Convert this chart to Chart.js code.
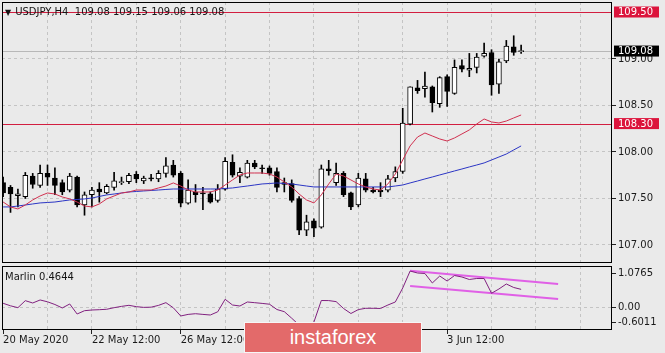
<!DOCTYPE html>
<html lang="en">
<head>
<meta charset="UTF-8">
<title>USDJPY H4</title>
<script src="https://cdn.jsdelivr.net/npm/chart.js@4"></script>
<style>
    body { margin: 0; background: #eaeaea; }
    #wrap { position: relative; width: 665px; height: 353px; overflow: hidden; font-family: 'DejaVu Sans', sans-serif; }
    canvas { position: absolute; left: 0; }
    #priceChart { top: 0; }
    #marlinChart { top: 265px; }
    .caption { position: absolute; font-size: 10px; color: #151515; white-space: pre; }
    .caption .arrow { font-size: 8px; margin-right: 4px; }
    #title { left: 5px; top: 6px; }
    #marlinTitle { left: 5px; top: 271px; }
    #watermark {
        position: absolute; left: 244px; top: 322px; width: 178px; height: 31px;
        box-sizing: border-box; border: 1px solid #f6f6f6; background: #e36a6a;
        color: #fff; font: 20px 'Liberation Sans', Arial, sans-serif;
        text-align: center; line-height: 29px;
    }
</style>
</head>
<body>
<div id="wrap">
    <canvas id="priceChart" width="665" height="265"></canvas>
    <canvas id="marlinChart" width="665" height="88"></canvas>
    <div class="caption" id="title"></div>
    <div class="caption" id="marlinTitle"></div>
    <div id="watermark">instaforex</div>
</div>
<script>
    // H4 candles, bar 0 = 20 May 12:00
    const open  = [107.67,107.62,107.53,107.52,107.74,107.64,107.77,107.72,107.67,107.59,107.73,107.43,107.54,107.60,107.56,107.62,107.67,107.68,107.76,107.69,107.72,107.71,107.77,107.86,107.77,107.45,107.57,107.56,107.55,107.48,107.60,107.89,107.74,107.73,107.88,107.83,107.83,107.79,107.67,107.66,107.50,107.16,107.26,107.19,107.82,107.67,107.77,107.56,107.43,107.71,107.59,107.59,107.59,107.72,107.79,108.30,108.69,108.68,108.70,108.52,108.81,108.63,108.93,108.88,108.91,109.03,109.07,108.73,108.98,109.13,109.08];
    const high  = [107.73,107.64,107.60,107.78,107.77,107.86,107.86,107.83,107.70,107.77,107.74,107.57,107.62,107.67,107.65,107.78,107.73,107.77,107.79,107.74,107.76,107.80,107.94,107.91,107.79,107.70,107.65,107.62,107.57,107.65,107.94,107.97,107.83,107.91,107.91,107.86,107.85,107.83,107.72,107.70,107.52,107.32,107.28,107.86,107.91,107.88,107.79,107.57,107.77,107.77,107.62,107.67,107.75,107.84,108.47,108.70,108.77,108.86,108.71,108.81,108.83,108.99,108.99,109.06,109.06,109.17,109.10,109.00,109.20,109.25,109.15];
    const low   = [107.52,107.35,107.41,107.50,107.61,107.62,107.64,107.54,107.54,107.57,107.41,107.32,107.41,107.46,107.55,107.59,107.65,107.66,107.67,107.66,107.69,107.68,107.73,107.73,107.41,107.44,107.46,107.38,107.45,107.46,107.59,107.73,107.67,107.72,107.82,107.77,107.75,107.57,107.57,107.46,107.11,107.10,107.09,107.18,107.75,107.64,107.52,107.38,107.41,107.57,107.56,107.52,107.57,107.68,107.77,108.29,108.63,108.59,108.43,108.48,108.49,108.62,108.86,108.81,108.85,109.02,108.61,108.63,108.96,109.04,109.06];
    const close = [107.56,107.55,107.55,107.75,107.65,107.77,107.73,107.64,107.57,107.74,107.43,107.54,107.59,107.57,107.63,107.69,107.68,107.75,107.71,107.72,107.71,107.77,107.85,107.75,107.45,107.59,107.54,107.55,107.46,107.60,107.90,107.75,107.78,107.88,107.84,107.82,107.77,107.62,107.65,107.48,107.16,107.25,107.18,107.82,107.80,107.77,107.54,107.41,107.72,107.59,107.57,107.57,107.71,107.79,108.31,108.70,108.66,108.71,108.53,108.80,108.65,108.91,108.89,108.90,109.02,109.06,108.72,108.97,109.14,109.07,109.08];

    // moving averages (red fast, blue slow)
    const maFast = [107.462,107.409,107.387,107.430,107.484,107.527,107.559,107.548,107.516,107.495,107.462,107.419,107.409,107.441,107.495,107.527,107.559,107.570,107.591,107.591,107.591,107.613,107.634,107.667,107.634,107.591,107.570,107.570,107.570,107.591,107.645,107.699,107.753,107.774,107.774,107.774,107.763,107.731,107.677,107.624,107.548,107.484,107.452,107.538,107.656,107.763,107.742,107.699,107.656,107.624,107.602,107.591,107.656,107.763,107.914,108.065,108.161,108.204,108.172,108.140,108.118,108.151,108.194,108.237,108.301,108.355,108.323,108.312,108.333,108.366,108.398];
    const maSlow = [107.409,107.409,107.419,107.430,107.441,107.452,107.457,107.462,107.473,107.484,107.489,107.495,107.505,107.522,107.538,107.548,107.559,107.570,107.575,107.581,107.586,107.591,107.597,107.602,107.602,107.602,107.602,107.602,107.602,107.602,107.608,107.613,107.624,107.634,107.645,107.656,107.661,107.667,107.661,107.656,107.645,107.634,107.624,107.624,107.624,107.624,107.624,107.624,107.624,107.624,107.624,107.624,107.624,107.634,107.645,107.667,107.688,107.710,107.731,107.753,107.774,107.796,107.817,107.839,107.860,107.882,107.914,107.946,107.978,108.022,108.065];

    // Marlin oscillator
    const marlin = [0.099,0.033,-0.016,0.168,0.107,0.186,0.138,0.067,-0.024,0.081,-0.182,-0.095,-0.077,-0.069,-0.058,-0.016,0.018,0.046,0.010,-0.008,-0.003,0.044,0.116,-0.019,-0.234,-0.192,-0.174,-0.192,-0.208,-0.124,0.204,0.054,0.028,0.133,0.115,0.096,0.075,-0.064,-0.121,-0.292,-0.472,-0.601,-0.391,0.172,0.170,0.143,-0.037,-0.169,-0.066,-0.032,-0.032,-0.037,0.054,0.133,0.500,0.945,0.893,0.880,0.631,0.814,0.683,0.827,0.788,0.723,0.749,0.749,0.361,0.474,0.605,0.513,0.4644];
    const channelBars  = [55, 75];
    const channelUpper = [0.953, 0.605];
    const channelLower = [0.552, 0.211];

    const priceTicks  = [107.00, 107.50, 108.00, 108.50, 109.00];
    const levelPrices = [109.50, 108.30];
    const bidPrice    = 109.08;
    const marlinMin = -0.6011, marlinMax = 1.0765;
    const marlinAxisLabels = ['-0.6011', '0.00', '1.0765'];
    const dateTicks  = [0, 12, 24, 36, 48, 60];
    const dateLabels = ['20 May 2020', '22 May 12:00', '26 May 12:00', '28 May 12:00', '1 Jun 12:00', '3 Jun 12:00'];

    const X_MIN = -0.15, X_MAX = 82.28;
    const gridBars = [];
    for (let b = 0; b <= X_MAX; b += 6) gridBars.push(b);

    const last = close.length - 1;
    document.getElementById('title').innerHTML = '<span class="arrow">\u25BC</span>USDJPY,H4  ' +
        [open, high, low, close].map(a => a[last].toFixed(2)).join(' ');
    document.getElementById('marlinTitle').textContent = 'Marlin ' + marlin[last].toFixed(4);

    const axisFont = { family: 'DejaVu Sans', size: 10, lineHeight: 1 };
    const gridGray = '#c4c4c4';
    const isLevel = v => levelPrices.includes(v);
    const isBid = v => v === bidPrice;

    // axes must not push the plot area in for their labels
    const noPad = s => { s.paddingTop = 0; s.paddingBottom = 0; s.paddingLeft = 0; s.paddingRight = 0; };

    // black box round each panel
    const frame = {
        id: 'frame',
        afterDraw(chart) {
            const { ctx, chartArea: a } = chart;
            ctx.save();
            ctx.strokeStyle = '#000';
            ctx.lineWidth = 1;
            ctx.strokeRect(Math.round(a.left) + 0.5, Math.round(a.top) + 0.5,
                Math.round(a.right - a.left) - 1, Math.round(a.bottom - a.top) - 1);
            ctx.restore();
        }
    };

    const xGrid = {
        type: 'linear', min: X_MIN, max: X_MAX, offset: false, bounds: 'data',
        afterBuildTicks: s => { s.ticks = gridBars.map(v => ({ value: v })); },
        grid: { offset: false, color: ctx => ctx.tick && ctx.tick.value === 0 ? 'rgba(0,0,0,0)' : gridGray },
        border: { display: false, dash: [3, 3] }
    };

    const pts = arr => arr.map((v, i) => ({ x: i, y: v }));

    new Chart(document.getElementById('priceChart'), {
        type: 'bar',
        data: {
            datasets: [
                { type: 'line', data: pts(maFast), borderColor: '#d0304f', borderWidth: 1, pointRadius: 0, order: 0 },
                { type: 'line', data: pts(maSlow), borderColor: '#2b35c4', borderWidth: 1, pointRadius: 0, order: 0 },
                {
                    data: open.map((o, i) => ({ x: i, y: [Math.min(o, close[i]), Math.max(o, close[i])] })),
                    backgroundColor: open.map((o, i) => close[i] >= o ? '#ffffff' : '#000000'),
                    borderColor: '#000', borderWidth: 1, borderSkipped: false,
                    barThickness: 5, minBarLength: 1, grouped: false, order: 1
                },
                {
                    data: high.map((h, i) => ({ x: i, y: [low[i], h] })),
                    backgroundColor: '#000', barThickness: 1, grouped: false, order: 2
                }
            ]
        },
        options: {
            responsive: false, animation: false, devicePixelRatio: 1,
            layout: { padding: { left: 2, top: 2, right: 0, bottom: 0 } },
            plugins: { legend: { display: false }, tooltip: { enabled: false } },
            scales: {
                x: Object.assign({}, xGrid, {
                    afterFit: s => { s.height = 2; noPad(s); },
                    ticks: { display: false },
                    grid: Object.assign({}, xGrid.grid, { drawTicks: false })
                }),
                y: {
                    position: 'right', min: 106.806, max: 109.613, bounds: 'data',
                    afterBuildTicks: s => {
                        s.ticks = [...priceTicks, ...levelPrices, bidPrice].sort((a, b) => a - b).map(v => ({ value: v }));
                    },
                    afterFit: s => { s.width = 53; noPad(s); },
                    ticks: {
                        font: axisFont, padding: 2,
                        callback: v => v.toFixed(2),
                        color: ctx => ctx.tick && (isLevel(ctx.tick.value) || isBid(ctx.tick.value)) ? '#ffffff' : '#1a1a1a',
                        showLabelBackdrop: true,
                        backdropColor: ctx => !ctx.tick ? 'rgba(0,0,0,0)' :
                            isLevel(ctx.tick.value) ? '#dc143c' : isBid(ctx.tick.value) ? '#000000' : 'rgba(0,0,0,0)',
                        backdropPadding: { left: 4, right: 6, top: 1, bottom: 0 }
                    },
                    grid: {
                        color: ctx => !ctx.tick ? gridGray :
                            isLevel(ctx.tick.value) ? '#d21e40' : isBid(ctx.tick.value) ? '#b8b8b8' : gridGray,
                        tickLength: 4, tickWidth: 1, tickBorderDash: [],
                        tickColor: ctx => ctx.tick && priceTicks.includes(ctx.tick.value) ? '#222' : 'rgba(0,0,0,0)'
                    },
                    border: { display: false, dash: ctx => ctx.tick && priceTicks.includes(ctx.tick.value) ? [3, 3] : [] }
                }
            }
        },
        plugins: [frame]
    });

    new Chart(document.getElementById('marlinChart'), {
        type: 'line',
        data: {
            datasets: [
                { data: pts(marlin), borderColor: '#80207f', borderWidth: 1, pointRadius: 0 },
                { data: channelBars.map((b, k) => ({ x: b, y: channelUpper[k] })), borderColor: '#e060e6', borderWidth: 2, pointRadius: 0 },
                { data: channelBars.map((b, k) => ({ x: b, y: channelLower[k] })), borderColor: '#e060e6', borderWidth: 2, pointRadius: 0 }
            ]
        },
        options: {
            responsive: false, animation: false, devicePixelRatio: 1,
            layout: { padding: { left: 2, top: 1, right: 0, bottom: 0 } },
            plugins: { legend: { display: false }, tooltip: { enabled: false } },
            scales: {
                x: Object.assign({}, xGrid, {
                    afterFit: s => { s.height = 23; noPad(s); },
                    ticks: {
                        font: axisFont, color: '#1a1a1a', align: 'start', autoSkip: false, maxRotation: 0, padding: 1,
                        callback: v => { const k = dateTicks.indexOf(v); return k >= 0 ? dateLabels[k] : ''; }
                    },
                    grid: Object.assign({}, xGrid.grid, {
                        tickLength: 4, tickBorderDash: [],
                        tickColor: ctx => ctx.tick && dateTicks.includes(ctx.tick.value) ? '#222' : 'rgba(0,0,0,0)'
                    })
                }),
                y: {
                    position: 'right', min: marlinMin, max: marlinMax, bounds: 'data',
                    afterBuildTicks: s => {
                        const inset = (s.max - s.min) * 0.12;
                        s.ticks = [{ value: s.min + inset }, { value: 0 }, { value: s.max - inset }];
                    },
                    afterFit: s => { s.width = 53; noPad(s); },
                    ticks: { font: axisFont, color: '#1a1a1a', padding: 2, callback: (v, i) => marlinAxisLabels[i] },
                    grid: {
                        color: ctx => ctx.tick && ctx.tick.value === 0 ? gridGray : 'rgba(0,0,0,0)',
                        tickLength: 4, tickColor: '#222', tickBorderDash: []
                    },
                    border: { display: false, dash: [3, 3] }
                }
            }
        },
        plugins: [frame]
    });
</script>
</body>
</html>
